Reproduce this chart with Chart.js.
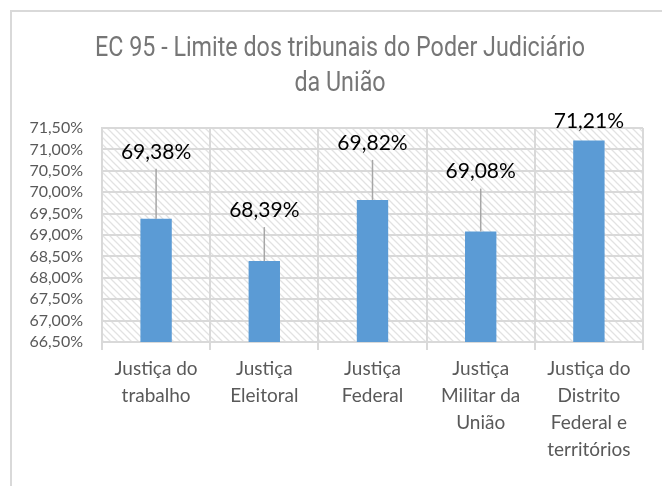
<!DOCTYPE html>
<html>
<head>
<meta charset="utf-8">
<script src="https://cdn.jsdelivr.net/npm/chart.js@4/dist/chart.umd.min.js"></script>
<style>
  html, body { margin: 0; padding: 0; background: #fff; }
  #wrap { width: 662px; height: 486px; }
</style>
</head>
<body>
<div id="wrap"><canvas id="chart"></canvas></div>
<script>
const categories = [
  ['Justiça do', 'trabalho'],
  ['Justiça', 'Eleitoral'],
  ['Justiça', 'Federal'],
  ['Justiça', 'Militar da', 'União'],
  ['Justiça do', 'Distrito', 'Federal e', 'territórios'],
];
const limits = [69.38, 68.39, 69.82, 69.08, 71.21];
const titleLines = ['EC 95 - Limite dos tribunais do Poder Judiciário', 'da União'];

// how far each value label sits above its bar (px), and whether it has a leader line
const labelLift = [67, 51, 57, 60, 19];
const labelLeader = [true, true, true, true, false];

const fmt = v => v.toFixed(2).replace('.', ',') + '%';

function hatch() {
  const c = document.createElement('canvas');
  c.width = 7; c.height = 7;
  const g = c.getContext('2d');
  g.fillStyle = '#fff';
  g.fillRect(0, 0, 7, 7);
  g.strokeStyle = '#e2e2e2';
  g.lineWidth = 1.3;
  g.beginPath();
  g.moveTo(-1, -1); g.lineTo(8, 8);
  g.moveTo(-8, -1); g.lineTo(1, 8);
  g.moveTo(6, -1); g.lineTo(15, 8);
  g.stroke();
  return c;
}

const frame = {
  id: 'frame',
  beforeDraw(chart) {
    const { ctx, chartArea: a } = chart;
    ctx.save();
    ctx.fillStyle = '#fff';
    ctx.fillRect(0, 0, chart.width, chart.height);
    ctx.strokeStyle = '#d9d9d9';
    ctx.lineWidth = 2;
    ctx.beginPath();
    ctx.moveTo(11, chart.height);
    ctx.lineTo(11, 11);
    ctx.lineTo(chart.width, 11);
    ctx.stroke();
    ctx.fillStyle = ctx.createPattern(hatch(), 'repeat');
    ctx.fillRect(a.left, a.top, a.right - a.left, a.bottom - a.top);
    ctx.restore();
  },
  afterDraw(chart) {
    const ctx = chart.ctx;
    ctx.save();
    ctx.fillStyle = '#767676';
    ctx.font = '28px Roboto';
    ctx.textAlign = 'center';
    ctx.textBaseline = 'middle';
    const w0 = ctx.measureText(titleLines[0]).width;
    const sx = 490 / w0;
    titleLines.forEach((t, i) => {
      ctx.save();
      ctx.translate(340, 49 + i * 35);
      ctx.scale(sx, 1);
      ctx.fillText(t, 0, 0);
      ctx.restore();
    });
    ctx.restore();
  },
};

const valueLabels = {
  id: 'valueLabels',
  afterDatasetsDraw(chart) {
    const ctx = chart.ctx;
    const meta = chart.getDatasetMeta(0);
    ctx.save();
    ctx.font = '21px Lato';
    ctx.fillStyle = '#000';
    ctx.textAlign = 'center';
    ctx.textBaseline = 'middle';
    meta.data.forEach((bar, i) => {
      const ly = bar.y - labelLift[i];
      if (labelLeader[i]) {
        ctx.strokeStyle = '#a6a6a6';
        ctx.lineWidth = 1.5;
        ctx.beginPath();
        ctx.moveTo(bar.x, ly + 17);
        ctx.lineTo(bar.x, bar.y);
        ctx.stroke();
      }
      ctx.fillText(fmt(limits[i]), bar.x, ly);
    });
    ctx.restore();
  },
};

new Chart(document.getElementById('chart'), {
  type: 'bar',
  data: {
    labels: categories,
    datasets: [{
      data: limits,
      backgroundColor: '#5b9bd5',
      barPercentage: 0.29,
      categoryPercentage: 1,
    }],
  },
  options: {
    responsive: true,
    maintainAspectRatio: false,
    animation: false,
    layout: { padding: { top: 128, right: 19, left: 0, bottom: 0 } },
    plugins: {
      legend: { display: false },
      tooltip: { enabled: false },
      title: { display: false },
    },
    scales: {
      x: {
        afterFit: s => { s.height = 144; },
        grid: { color: '#d9d9d9', lineWidth: 2, offset: true, tickLength: 8 },
        border: { color: '#d9d9d9', width: 2 },
        ticks: {
          color: '#595959',
          font: { family: 'Lato', size: 19, lineHeight: '27px' },
          padding: 5,
          maxRotation: 0,
          autoSkip: false,
        },
      },
      y: {
        min: 66.5,
        max: 71.5,
        afterFit: s => { s.width = 102; },
        grid: { color: '#d9d9d9', lineWidth: 2, drawTicks: false },
        border: { color: '#d9d9d9', width: 2 },
        ticks: {
          stepSize: 0.5,
          autoSkip: false,
          color: '#595959',
          font: { family: 'Lato', size: 16 },
          padding: 19,
          callback: v => fmt(v),
        },
      },
    },
  },
  plugins: [frame, valueLabels],
});
</script>
</body>
</html>
